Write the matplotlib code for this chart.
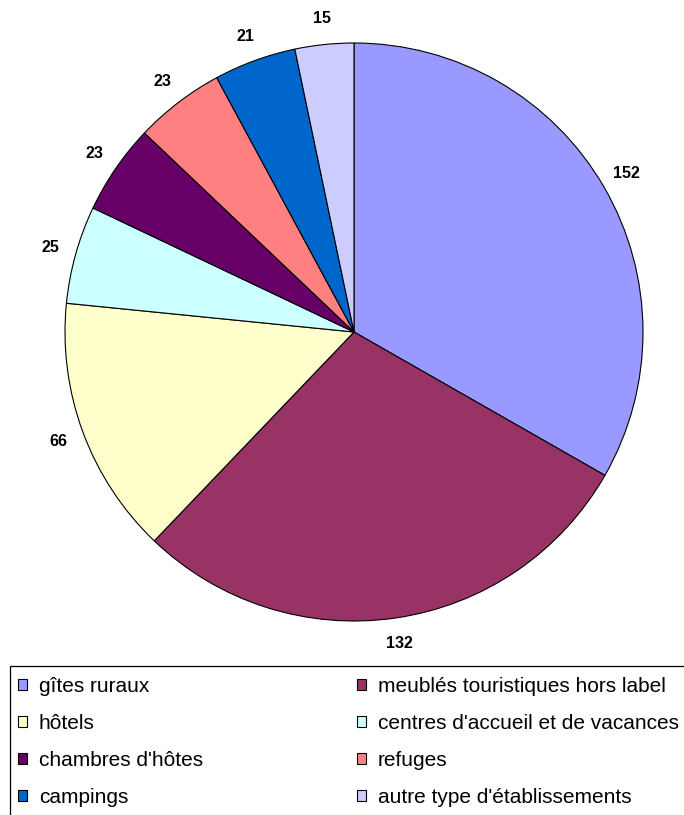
import matplotlib
matplotlib.use("Agg")
import matplotlib.pyplot as plt
from matplotlib.patches import Rectangle

categories = ["gîtes ruraux", "meublés touristiques hors label", "hôtels",
              "centres d'accueil et de vacances", "chambres d'hôtes", "refuges",
              "campings", "autre type d'établissements"]
values = [152, 132, 66, 25, 23, 23, 21, 15]
colors = ["#9999FF", "#993366", "#FFFFCC", "#CCFFFF", "#660066", "#FF8080",
          "#0066CC", "#CCCCFF"]

plt.rcParams['font.family'] = ['Liberation Sans', 'DejaVu Sans']

W, H = 684, 815
fig = plt.figure(figsize=(W / 100, H / 100), dpi=100)

cx, cy, r = 354, 332, 289
ax = fig.add_axes([(cx - r) / W, (H - cy - r) / H, 2 * r / W, 2 * r / H])
wedges, texts = ax.pie(values, colors=colors, startangle=90, counterclock=False,
                       labels=[str(v) for v in values], labeldistance=1.09,
                       wedgeprops=dict(edgecolor="black", linewidth=0.8),
                       textprops=dict(fontsize=11.5, fontweight="bold", color="black"))
for t in texts:
    t.set_ha("center")
    t.set_va("center")
ax.set_xlim(-1, 1)
ax.set_ylim(-1, 1)
ax.set_aspect("auto")
ax.axis("off")

# legend frame (extends beyond the figure on the right and bottom)
fig.patches.append(Rectangle((10 / W, -0.1), 1.2, (H - 666) / H + 0.1,
                             transform=fig.transFigure, fill=False,
                             edgecolor="black", linewidth=0.9))

leg_kw = dict(frameon=False, fontsize=15, handlelength=0.45, handleheight=0.45,
              handletextpad=0.55, labelspacing=0.86, borderpad=0, borderaxespad=0,
              loc="upper left")
col1 = [0, 2, 4, 6]
col2 = [1, 3, 5, 7]
top = (H - 677) / H
l1 = fig.legend([wedges[i] for i in col1], [categories[i] for i in col1],
                bbox_to_anchor=(18 / W, top), **leg_kw)
l2 = fig.legend([wedges[i] for i in col2], [categories[i] for i in col2],
                bbox_to_anchor=(357 / W, top), **leg_kw)
for leg in (l1, l2):
    for h in leg.legend_handles:
        h.set_edgecolor("black")
        h.set_linewidth(0.8)

fig.savefig("out.png", dpi=100)
